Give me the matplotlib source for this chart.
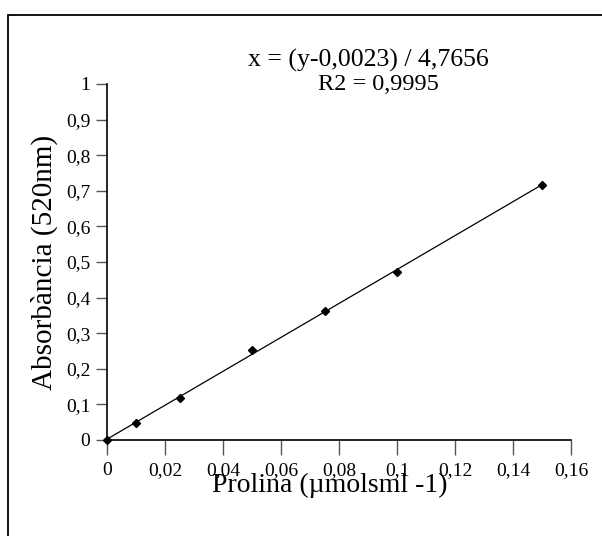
import matplotlib
matplotlib.use("Agg")
import matplotlib.pyplot as plt
from matplotlib.patches import Rectangle
import numpy as np

conc = [0, 0.01, 0.025, 0.05, 0.075, 0.1, 0.15]
absorb = [0.0, 0.048, 0.118, 0.253, 0.362, 0.472, 0.716]
slope = 4.7656
intercept = 0.0023
xticks = [0, 0.02, 0.04, 0.06, 0.08, 0.1, 0.12, 0.14, 0.16]
xticklabels = ["0", "0,02", "0,04", "0,06", "0,08", "0,1", "0,12", "0,14", "0,16"]
yticks = [0, 0.1, 0.2, 0.3, 0.4, 0.5, 0.6, 0.7, 0.8, 0.9, 1.0]
yticklabels = ["0", "0,1", "0,2", "0,3", "0,4", "0,5", "0,6", "0,7", "0,8", "0,9", "1"]

plt.rcParams['font.family'] = ['Liberation Serif', 'DejaVu Serif']

fig = plt.figure(figsize=(6.02, 5.36), dpi=100)
ax = fig.add_axes([107/602, 1-440/536, (571-107)/602, (440-84)/536])

fx = np.array([conc[0], conc[-1]])
ax.plot(fx, slope*fx + intercept, color='black', lw=0.9, zorder=2)
ax.plot(conc, absorb, linestyle='none', marker='D', color='black', markersize=4.5, zorder=3, clip_on=False)

ax.set_xlim(0, 0.16)
ax.set_ylim(0, 1)
ax.set_xticks(xticks)
ax.set_xticklabels(xticklabels)
ax.set_yticks(yticks)
ax.set_yticklabels(yticklabels)
ax.spines['top'].set_visible(False)
ax.spines['right'].set_visible(False)
ax.spines['left'].set_linewidth(1.2)
ax.spines['bottom'].set_linewidth(1.2)
ax.tick_params(axis='both', direction='out', colors='#555555', labelcolor='black', labelsize=14, width=1.0)
ax.tick_params(axis='x', length=11, pad=5)
ax.tick_params(axis='y', length=8, pad=4)

ax.set_xlabel("Prolina (µmolsml -1)", fontsize=20)
ax.xaxis.set_label_coords((330-107)/464, -(492-440)/356)
ax.xaxis.label.set_va('baseline')
ax.set_ylabel("Absorbància (520nm)", fontsize=21, labelpad=6)

fig.text(368/602, 1-60/536, "x = (y-0,0023) / 4,7656", ha='center', va='center', fontsize=18.5)
fig.text(378/602, 1-84/536, "R2 = 0,9995", ha='center', va='center', fontsize=17.5)

fig.patches.append(Rectangle((8/602, -0.1), 1.2, 1.1 - 15/536, transform=fig.transFigure,
                             fill=False, edgecolor='black', lw=1.3))

fig.savefig("out.png", dpi=100)
